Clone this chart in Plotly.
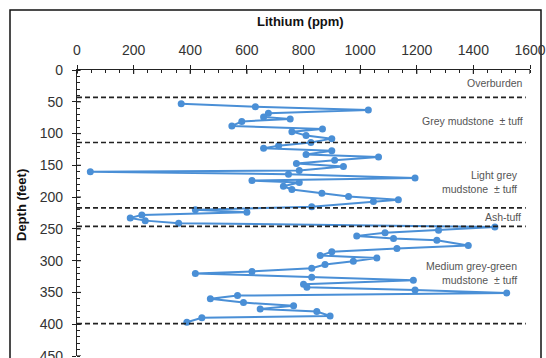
import plotly.graph_objects as go

# Lithium profile down the core (depth in feet, Li in ppm)
depth_ft = [53, 58, 63, 68, 74, 77, 81, 88, 93, 97, 103, 108, 114,
            119, 123, 127, 133, 137, 142, 147, 152, 158, 160, 164, 170, 174, 177, 183, 188,
            194, 199, 204, 207, 215,
            220, 224, 228, 233, 237, 241,
            247, 252, 256, 261, 265, 268, 276, 281, 286, 292, 296, 301, 306, 312,
            317, 320, 326, 331, 337, 342, 346, 351, 355, 360, 366, 371, 376, 380,
            387, 390, 397]
lithium_ppm = [368, 630, 1029, 676, 659, 753, 582, 547, 867, 759, 809, 900, 826,
               712, 659, 900, 809, 1065, 910, 775, 941, 785, 47, 747, 1194, 618, 785, 729, 759,
               865, 959, 1135, 1047, 829,
               418, 600, 229, 188, 241, 359,
               1476, 1277, 1088, 988, 1118, 1271, 1382, 1130, 900, 859, 1059, 976, 876, 829,
               618, 418, 829, 1188, 800, 812, 1194, 1518, 567, 471, 588, 765, 647, 847,
               894, 441, 388]

# Unit boundaries and labels
boundaries_ft = [43, 114, 217, 246, 399]
unit_labels = ["Overburden", "Grey mudstone  ± tuff", "Light grey<br>mudstone  ± tuff",
               "Ash-tuff", "Medium grey-green<br>mudstone  ± tuff"]
unit_label_depth = [21, 81, 176, 231, 320]
unit_label_x = [1582, 1582, 1565, 1575, 1562]

x_ticks = list(range(0, 1601, 200))
y_ticks = list(range(0, 451, 50))

FONT = "Arial, Liberation Sans, sans-serif"
BLUE = "#4a8fd6"

fig = go.Figure()
fig.add_trace(go.Scatter(
    x=lithium_ppm, y=depth_ft, mode="lines+markers",
    line=dict(color=BLUE, width=2),
    marker=dict(color=BLUE, size=7),
    showlegend=False, cliponaxis=False,
))

shapes = []
# dashed unit boundaries
for d in boundaries_ft:
    shapes.append(dict(type="line", xref="x", yref="y", x0=0, x1=1585, y0=d, y1=d,
                       line=dict(color="#222", width=1.6, dash="5px,3px"), layer="above"))
# inner half of the major (crossing) ticks
for t in x_ticks:
    shapes.append(dict(type="line", xref="x", yref="y", ysizemode="pixel", yanchor=0,
                       x0=t, x1=t, y0=0, y1=-4, line=dict(color="#222", width=1.2)))
for t in y_ticks:
    shapes.append(dict(type="line", xref="x", yref="y", xsizemode="pixel", xanchor=0,
                       y0=t, y1=t, x0=0, x1=4, line=dict(color="#222", width=1.2)))
# frame around the figure
shapes.append(dict(type="rect", xref="paper", yref="paper",
                   x0=(10 - 77) / 453, x1=(541 - 77) / 453,
                   y0=(356 - 372) / 286, y1=(356 - 10) / 286,
                   line=dict(color="#111", width=1.5), layer="below"))

annotations = [
    dict(text="<b>Lithium (ppm)</b>", xref="paper", yref="paper",
         x=(300 - 77) / 453, y=(356 - 21) / 286, showarrow=False,
         xanchor="center", yanchor="middle",
         font=dict(family=FONT, size=13, color="#111")),
    dict(text="<b>Depth (feet)</b>", xref="paper", yref="paper",
         x=(22 - 77) / 453, y=(356 - 205) / 286, showarrow=False, textangle=-90,
         xanchor="center", yanchor="middle",
         font=dict(family=FONT, size=13, color="#111")),
]
for txt, d, xv in zip(unit_labels, unit_label_depth, unit_label_x):
    annotations.append(dict(text=txt, x=xv, y=d, xref="x", yref="y", showarrow=False,
                            xanchor="right", align="right",
                            font=dict(family=FONT, size=10.5, color="#555")))

fig.update_layout(
    width=546, height=358,
    margin=dict(l=77, r=16, t=70, b=2, autoexpand=False),
    paper_bgcolor="white", plot_bgcolor="white",
    shapes=shapes, annotations=annotations,
    font=dict(family=FONT, size=14, color="#333"),
    xaxis=dict(range=[0, 1600], side="top", tickvals=x_ticks, showgrid=False, zeroline=False,
               showline=True, linecolor="#222", linewidth=1.2, automargin=False,
               ticks="outside", ticklen=4, tickcolor="#222", tickwidth=1.2,
               ticklabelstandoff=4, ticklabeloverflow="allow",
               minor=dict(dtick=50, ticks="inside", ticklen=3, tickcolor="#222", tickwidth=1),
               tickfont=dict(family=FONT, size=14, color="#333")),
    yaxis=dict(range=[450, 0], tickvals=y_ticks, showgrid=False, zeroline=False,
               showline=True, linecolor="#222", linewidth=1.2, automargin=False,
               ticks="outside", ticklen=4, tickcolor="#222", tickwidth=1.2,
               ticklabelstandoff=6, ticklabeloverflow="allow",
               minor=dict(dtick=10, ticks="inside", ticklen=3, tickcolor="#222", tickwidth=1),
               tickfont=dict(family=FONT, size=14, color="#333")),
)

fig.write_html("out.html")
